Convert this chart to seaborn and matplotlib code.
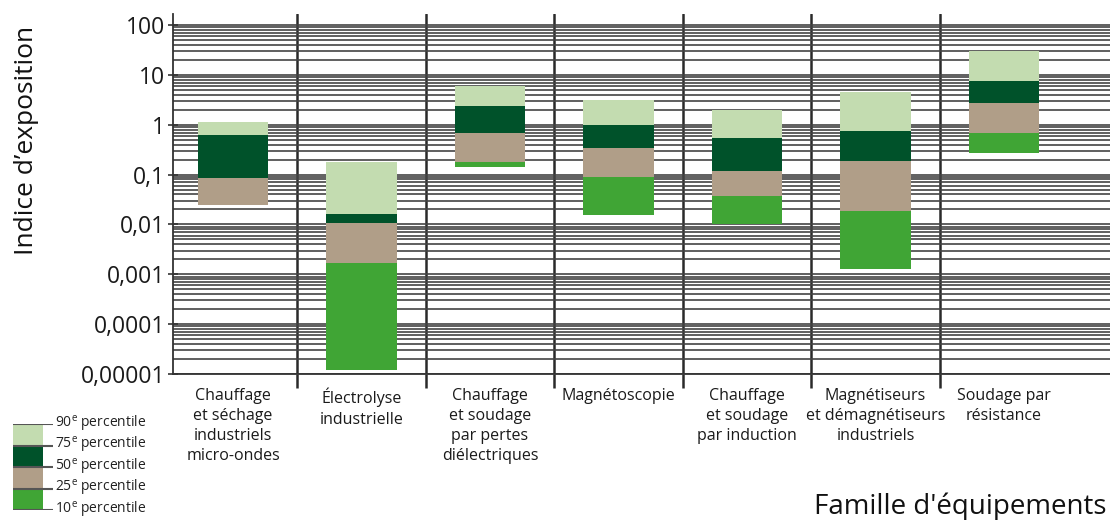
import numpy as np
import pandas as pd
import matplotlib
matplotlib.use("Agg")
import matplotlib.pyplot as plt
import seaborn as sns

# Exposure index per equipment family (percentiles)
categories = ["Chauffage\net séchage\nindustriels\nmicro-ondes",
              "Électrolyse\nindustrielle",
              "Chauffage\net soudage\npar pertes\ndiélectriques",
              "Magnétoscopie",
              "Chauffage\net soudage\npar induction",
              "Magnétiseurs\net démagnétiseurs\nindustriels",
              "Soudage par\nrésistance"]
p10 = [0.025, 1.2e-5, 0.14, 0.0155, 0.0104, 0.00125, 0.27]
p25 = [0.025, 0.0017, 0.177, 0.091, 0.0376, 0.0187, 0.70]
p50 = [0.085, 0.0107, 0.70, 0.35, 0.118, 0.19, 2.74]
p75 = [0.62, 0.0166, 2.34, 0.97, 0.54, 0.75, 7.6]
p90 = [1.15, 0.177, 5.9, 3.19, 2.0, 4.56, 30.0]

ytick_vals = [1e-5, 1e-4, 1e-3, 1e-2, 1e-1, 1, 10, 100]
ytick_labels = ["0,00001", "0,0001", "0,001", "0,01", "0,1", "1", "10", "100"]
legend_labels = ["90", "75", "50", "25", "10"]

c_light = "#c3dcb0"
c_dark = "#00522a"
c_taupe = "#b09e88"
c_green = "#40a535"

sns.set_theme(style="white")
plt.rcParams["font.family"] = ["Open Sans", "DejaVu Sans"]
plt.rcParams["mathtext.default"] = "regular"

fig = plt.figure(figsize=(11.1, 5.2), dpi=100)
ax = fig.add_axes([173 / 1110, 1 - 374 / 520, 937 / 1110, 360 / 520])

# one stacked layer per percentile band
layers = [(p75, p90, c_light), (p50, p75, c_dark), (p25, p50, c_taupe), (p10, p25, c_green)]
for lo, hi, col in layers:
    df = pd.DataFrame({"cat": categories, "lo": lo, "hi": hi})
    df = df[df["hi"] > df["lo"]]
    sns.barplot(data=df, x="cat", y=df["hi"] - df["lo"], order=categories,
                bottom=df["lo"].values, color=col, saturation=1, width=0.55,
                errorbar=None, linewidth=0, ax=ax)

ax.set_yscale("log")
ax.set_ylim(1e-5, 167)
ax.set_xlim(-0.467, 6.825)
ax.set_yticks(ytick_vals, ytick_labels)
ax.yaxis.set_minor_locator(matplotlib.ticker.LogLocator(base=10, subs=np.arange(2, 10), numticks=100))
ax.yaxis.set_minor_formatter(matplotlib.ticker.NullFormatter())
ax.set_xticks(np.arange(0.5, 6), minor=True)

ax.set_axisbelow(True)
ax.yaxis.grid(True, which="both", color="#444444", lw=1.2)
ax.xaxis.grid(False, which="major")
ax.xaxis.grid(True, which="minor", color="#2a2a2a", lw=1.8)

ax.tick_params(axis="y", which="major", direction="inout", length=7, width=1.2,
               color="#333333", labelsize=16.5, pad=2, left=True)
ax.tick_params(axis="y", which="minor", length=0)
ax.tick_params(axis="x", which="major", length=0, pad=10, labelsize=11.5)
ax.tick_params(axis="x", which="minor", direction="out", length=10, width=1.8,
               color="#2a2a2a", bottom=True)
for lbl in ax.get_xticklabels():
    lbl.set_linespacing(1.35)
    lbl.set_color("#1a1a1a")
for lbl in ax.get_yticklabels():
    lbl.set_color("#1a1a1a")

for s in ["top", "right"]:
    ax.spines[s].set_visible(False)
for s in ["left", "bottom"]:
    ax.spines[s].set_color("#333333")
    ax.spines[s].set_linewidth(1.3)

ax.set_xlabel("")
ax.set_ylabel("Indice d’exposition", fontsize=19, color="#111111")
ax.yaxis.set_label_coords(-0.143, 0.65)
fig.text(0.997, 0.012, "Famille d'équipements", ha="right", va="baseline",
         fontsize=20, color="#111111")

# percentile legend, bottom left
lax = fig.add_axes([13 / 1110, 1 - 510 / 520, 40 / 1110, 86 / 520])
for i, col in enumerate([c_light, c_dark, c_taupe, c_green]):
    lax.axhspan(i, i + 1, xmin=0, xmax=30 / 40, color=col, lw=0)
lax.hlines(range(5), 0, 1, color="#555555", lw=1.5)
for i, p in enumerate(legend_labels):
    lax.text(1.05, i, p + "$^{e}$ percentile", va="center", ha="left",
             fontsize=10, color="#222222", transform=lax.transData)
lax.set_xlim(0, 1)
lax.set_ylim(4, 0)
lax.axis("off")

fig.savefig("out.png", dpi=100)
